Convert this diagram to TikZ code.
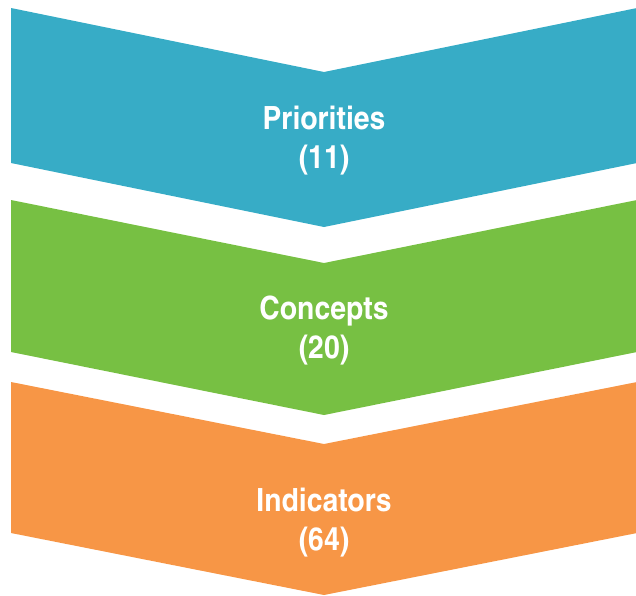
\documentclass[tikz,border=0pt]{standalone}
\usepackage{fontspec}
\newfontfamily\labelfont{TeX Gyre Heros Cn}[FakeStretch=1.08]
\definecolor{prioblue}{HTML}{37ACC6}
\definecolor{concgreen}{HTML}{77C043}
\definecolor{indorange}{HTML}{F79646}
\usepackage{tikz}

\begin{document}
\begin{tikzpicture}[
  x=1pt, y=-1pt,
  every node/.style={font=\labelfont\bfseries\fontsize{32}{39}\selectfont},
  label/.style={text=white, align=center, inner sep=0pt, anchor=base},
]
\useasboundingbox (0,0) rectangle (636,595);

% three stacked chevrons, apex at x = 324
\fill[prioblue]  (11,8)   -- (324,72)  -- (637,8)   -- (637,163) -- (324,227) -- (11,163) -- cycle;
\fill[concgreen] (11,200) -- (324,263) -- (637,200) -- (637,352) -- (324,415) -- (11,352) -- cycle;
\fill[indorange] (11,382) -- (324,444) -- (637,382) -- (637,533) -- (324,595) -- (11,533) -- cycle;

% base anchor sits on the count line
\node[label] (prio) at (324,168) {Priorities\\(11)};
\node[label] (conc) at (324,358) {Concepts\\(20)};
\node[label] (ind)  at (324,550) {Indicators\\(64)};

\end{tikzpicture}
\end{document}
